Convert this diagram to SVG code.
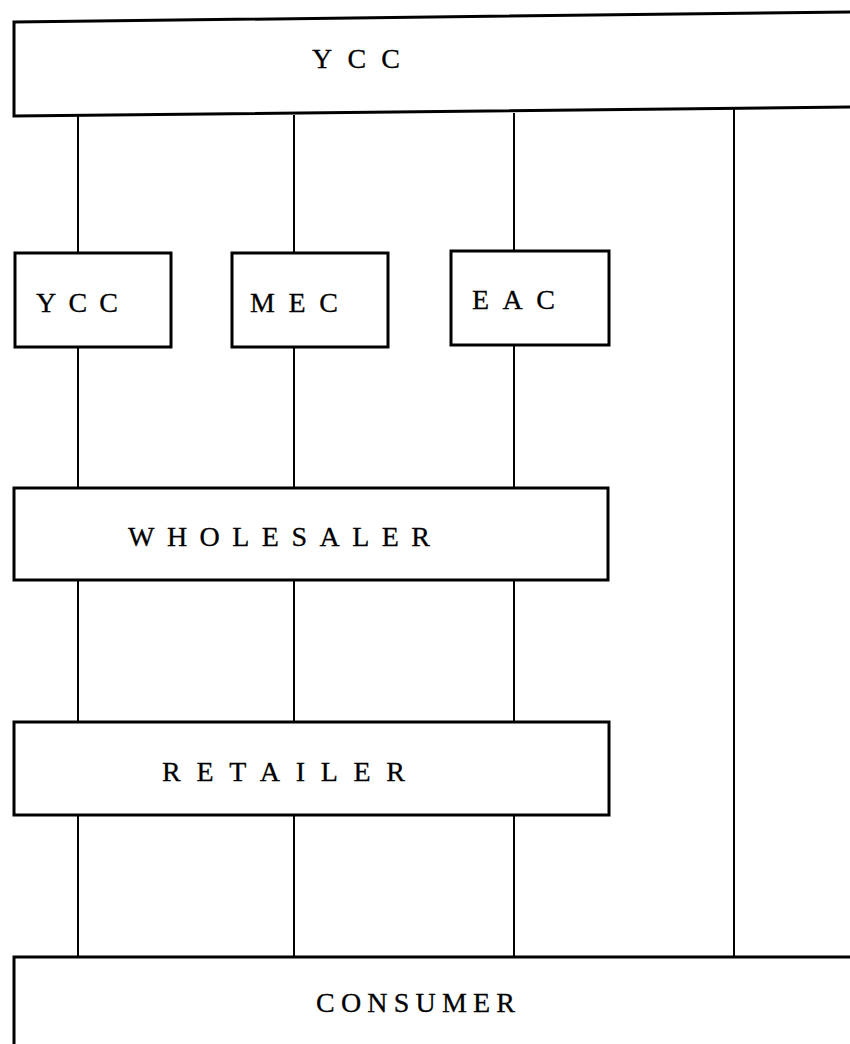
<svg xmlns="http://www.w3.org/2000/svg" width="850" height="1044" viewBox="0 0 850 1044">
<style>
.box{fill:#fff;stroke:#000;stroke-width:3}
.ln{stroke:#000;stroke-width:2;fill:none}
.t{font-family:"Liberation Serif","Times New Roman",serif;font-size:28px;fill:#000;stroke:#000;stroke-width:0.3}
</style>
<rect width="850" height="1044" fill="#fff"/>
<g id="connectors">
<line class="ln" x1="78" y1="116" x2="78" y2="253"/>
<line class="ln" x1="294" y1="115" x2="294" y2="253"/>
<line class="ln" x1="514" y1="113" x2="514" y2="251"/>
<line class="ln" x1="734" y1="109" x2="734" y2="956"/>
<line class="ln" x1="78" y1="347" x2="78" y2="488"/>
<line class="ln" x1="294" y1="347" x2="294" y2="488"/>
<line class="ln" x1="514" y1="345" x2="514" y2="488"/>
<line class="ln" x1="78" y1="580" x2="78" y2="722"/>
<line class="ln" x1="294" y1="580" x2="294" y2="722"/>
<line class="ln" x1="514" y1="580" x2="514" y2="722"/>
<line class="ln" x1="78" y1="815" x2="78" y2="957"/>
<line class="ln" x1="294" y1="815" x2="294" y2="957"/>
<line class="ln" x1="514" y1="815" x2="514" y2="957"/>
</g>
<g id="ycc-top">
<polygon class="box" points="14,22 852,12 852,107 14,116"/>
<text class="t" x="312" y="68" textLength="88" lengthAdjust="spacing">YCC</text>
</g>
<g id="ycc">
<rect class="box" x="15" y="253" width="156" height="94"/>
<text class="t" x="36" y="312" textLength="82" lengthAdjust="spacing">YCC</text>
</g>
<g id="mec">
<rect class="box" x="232" y="253" width="156" height="94"/>
<text class="t" x="250" y="312" textLength="88" lengthAdjust="spacing">MEC</text>
</g>
<g id="eac">
<rect class="box" x="451" y="251" width="158" height="94"/>
<text class="t" x="472" y="309" textLength="83" lengthAdjust="spacing">EAC</text>
</g>
<g id="wholesaler">
<rect class="box" x="14" y="488" width="594" height="92"/>
<text class="t" x="128" y="546" textLength="302" lengthAdjust="spacing">WHOLESALER</text>
</g>
<g id="retailer">
<rect class="box" x="14" y="722" width="595" height="93"/>
<text class="t" x="162" y="781" textLength="243" lengthAdjust="spacing">RETAILER</text>
</g>
<g id="consumer">
<rect class="box" x="14" y="957" width="840" height="100"/>
<text class="t" x="316" y="1012" textLength="199" lengthAdjust="spacing">CONSUMER</text>
</g>
</svg>
